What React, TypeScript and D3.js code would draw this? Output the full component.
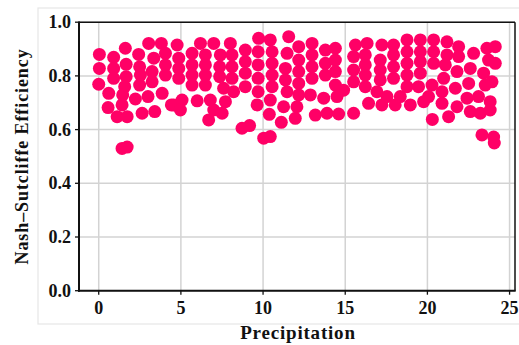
import React from "react";
import * as d3 from "d3";

const precipitation: number[] = [
  0.04, 0.04, 0.0, 0.91, 0.91, 0.91, 0.61, 0.57, 1.12,
  1.62, 1.67, 1.67, 1.58, 1.46, 1.42, 1.73,
  2.43, 2.49, 2.54, 2.49, 2.23, 2.64,
  3.04, 3.35, 3.25, 3.25, 3.0, 3.41,
  3.81, 4.06, 4.06, 4.06, 3.86, 4.42,
  1.42, 1.73,
  4.77, 4.87, 4.87, 4.87, 4.56, 5.07, 4.97,
  5.68, 5.68, 5.68, 5.68,
  6.19, 6.49, 6.49, 6.49, 6.49,
  5.99, 6.79, 7.0, 6.69,
  7.0, 7.4, 7.36, 7.36, 7.6, 7.51, 7.71,
  8.01, 8.11, 8.11, 8.11, 8.21,
  8.92, 8.92, 8.92, 8.92,
  8.72, 9.18,
  9.73, 9.7, 9.7, 9.7, 9.7, 9.64,
  10.04, 10.44,
  10.44, 10.55, 10.55, 10.55, 10.55, 10.44, 10.38,
  11.11, 11.25,
  11.56, 11.46, 11.36, 11.36, 11.46,
  12.06, 11.96,
  12.17, 12.17, 12.17, 12.17, 12.17,
  12.98, 12.98, 12.98, 12.98, 12.88, 13.18,
  13.79, 13.79, 13.79, 13.69, 13.89,
  14.4, 14.4, 14.4, 14.4, 14.5, 14.6,
  15.51, 14.9,
  15.62, 15.51, 15.51, 15.51,
  16.33, 16.22, 16.22, 16.22, 16.22, 16.42,
  17.23, 17.13, 17.13, 17.13, 16.93, 17.23,
  17.94, 17.94, 17.94, 17.94, 17.54, 18.04, 18.35,
  18.76, 18.76, 18.76, 18.76, 18.76, 18.96,
  19.57, 19.57, 19.57, 19.57, 19.46, 19.77, 20.3,
  20.38, 20.38, 20.38, 20.28, 20.07,
  21.19, 21.19, 21.09, 20.99, 20.89, 20.89, 21.29,
  21.9, 21.9, 21.8, 21.7, 21.8,
  22.41, 22.51, 22.61, 22.81, 22.61,
  23.11, 23.22, 23.42, 23.62, 24.13, 23.72, 24.13, 23.52, 23.93, 23.82, 23.82,
  23.32, 24.03, 24.07,
];

const nse: number[] = [
  0.88, 0.828, 0.769, 0.869, 0.828, 0.791, 0.735, 0.682, 0.648,
  0.903, 0.843, 0.797, 0.76, 0.729, 0.692, 0.648,
  0.88, 0.834, 0.803, 0.766, 0.714, 0.661,
  0.921, 0.866, 0.816, 0.778, 0.723, 0.667,
  0.921, 0.884, 0.841, 0.803, 0.735, 0.692,
  0.53, 0.535,
  0.915, 0.866, 0.828, 0.791, 0.692, 0.71, 0.673,
  0.884, 0.841, 0.803, 0.766,
  0.921, 0.878, 0.841, 0.803, 0.766,
  0.707, 0.71, 0.673, 0.636,
  0.921, 0.878, 0.834, 0.797, 0.754, 0.661, 0.704,
  0.921, 0.878, 0.834, 0.791, 0.741,
  0.896, 0.853, 0.81, 0.76,
  0.605, 0.615,
  0.94, 0.89, 0.841, 0.791, 0.741, 0.692,
  0.568, 0.574,
  0.934, 0.89, 0.847, 0.803, 0.76, 0.71, 0.657,
  0.627, 0.685,
  0.946, 0.884, 0.828, 0.785, 0.741,
  0.685, 0.642,
  0.909, 0.859, 0.816, 0.772, 0.729,
  0.921, 0.878, 0.834, 0.791, 0.729, 0.654,
  0.896, 0.847, 0.803, 0.717, 0.661,
  0.903, 0.859, 0.816, 0.766, 0.723, 0.658,
  0.661, 0.747,
  0.915, 0.872, 0.822, 0.778,
  0.921, 0.878, 0.841, 0.803, 0.76, 0.698,
  0.915, 0.859, 0.822, 0.785, 0.741, 0.692,
  0.915, 0.878, 0.834, 0.791, 0.723, 0.692, 0.723,
  0.934, 0.89, 0.847, 0.803, 0.76, 0.692,
  0.934, 0.89, 0.853, 0.81, 0.76, 0.704, 0.638,
  0.934, 0.89, 0.847, 0.766, 0.723,
  0.927, 0.878, 0.841, 0.791, 0.741, 0.698, 0.648,
  0.909, 0.872, 0.816, 0.754, 0.685,
  0.717, 0.772, 0.828, 0.884, 0.667,
  0.723, 0.661, 0.81, 0.903, 0.909, 0.859, 0.847, 0.766, 0.778, 0.704, 0.673,
  0.58, 0.572, 0.55,
];

const xTicks: number[] = [0, 5, 10, 15, 20, 25];
const yTicks: number[] = [0.0, 0.2, 0.4, 0.6, 0.8, 1.0];
const xLabel = "Precipitation";
const yLabel = "Nash\u2013Sutcliffe Efficiency";

export default function App() {
  const W = 519, H = 345;
  const left = 79, right = 515, top = 22.2, bottom = 290.7;
  const x = d3.scaleLinear().domain([-1.2, 25.33]).range([left, right]);
  const y = d3.scaleLinear().domain([0, 1]).range([bottom, top]);
  const font = "'Liberation Serif', 'Times New Roman', Times, serif";
  const pts = d3.zip(precipitation, nse);
  return (
    <svg width={W} height={H} style={{ position: "absolute", left: 0, top: 0, background: "#fff" }}>
      <rect x={38} y={8} width={W} height={316} fill="none" stroke="#e6e6e6" strokeWidth={1.2} />
      {xTicks.map((t) => (
        <line key={"gx" + t} x1={x(t)} x2={x(t)} y1={top} y2={bottom} stroke="#d3d3d3" strokeWidth={1.5} />
      ))}
      {yTicks.map((t) => (
        <line key={"gy" + t} x1={left} x2={right} y1={y(t)} y2={y(t)} stroke="#d3d3d3" strokeWidth={1.5} />
      ))}
      <g>
        {pts.map(([px, py], i) => (
          <circle key={i} cx={x(px)} cy={y(py)} r={6.5} fill="#ff0066" />
        ))}
      </g>
      <line x1={left} x2={right} y1={top} y2={top} stroke="#111" strokeWidth={1.5} />
      <line x1={right} x2={right} y1={top} y2={bottom} stroke="#111" strokeWidth={1.5} />
      <line x1={left} x2={left} y1={top - 0.8} y2={bottom + 1} stroke="#111" strokeWidth={2} />
      <line x1={left - 1} x2={right + 0.7} y1={bottom} y2={bottom} stroke="#111" strokeWidth={2} />
      {xTicks.map((t) => (
        <g key={"tx" + t}>
          <line x1={x(t)} x2={x(t)} y1={bottom} y2={bottom + 4} stroke="#111" strokeWidth={1.3} />
          <text x={x(t)} y={314} textAnchor="middle" fontFamily={font} fontWeight="bold" fontSize={18} fill="#111">
            {t}
          </text>
        </g>
      ))}
      {yTicks.map((t) => (
        <g key={"ty" + t}>
          <line x1={left - 4} x2={left} y1={y(t)} y2={y(t)} stroke="#111" strokeWidth={1.3} />
          <text x={71} y={y(t) + 6} textAnchor="end" fontFamily={font} fontWeight="bold" fontSize={18} fill="#111">
            {t.toFixed(1)}
          </text>
        </g>
      ))}
      <text x={(left + right) / 2 + 1} y={339} textAnchor="middle" fontFamily={font} fontWeight="bold" fontSize={19} letterSpacing={0.8} fill="#111">
        {xLabel}
      </text>
      <text transform={`translate(28, ${(top + bottom) / 2}) rotate(-90)`} textAnchor="middle" fontFamily={font} fontWeight="bold" fontSize={18} letterSpacing={0.9} fill="#111">
        {yLabel}
      </text>
    </svg>
  );
}
